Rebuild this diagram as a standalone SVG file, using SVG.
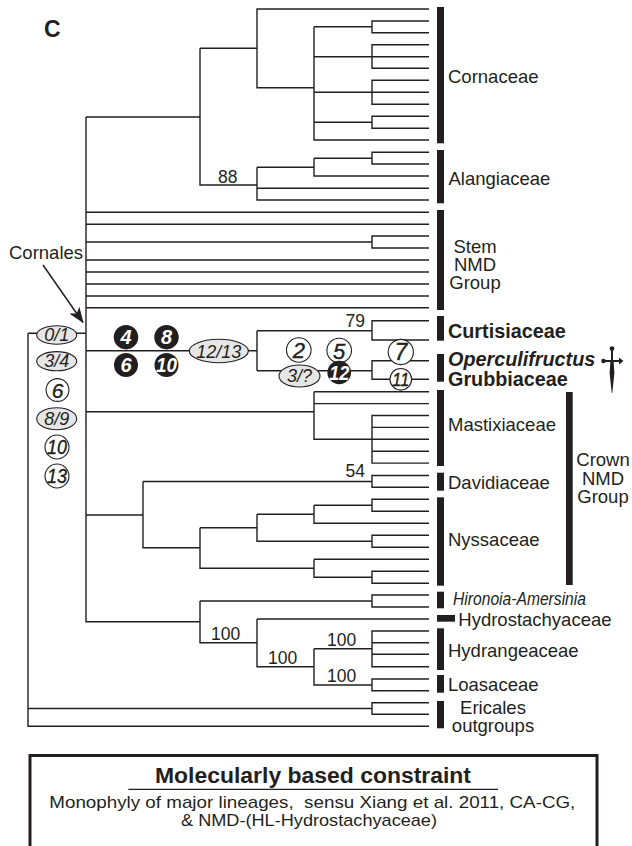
<svg xmlns="http://www.w3.org/2000/svg" width="632" height="846" viewBox="0 0 632 846">
<style>
text{font-family:"Liberation Sans",Arial,sans-serif;fill:#231f20}
.tree{fill:none;stroke:#231f20;stroke-width:1.4}
.bar{fill:#231f20}
.fam{font-size:18.5px}
.famb{font-size:19.8px;font-weight:bold}
.num{font-size:17.5px}
.ell{fill:#e6e6e6;stroke:#231f20;stroke-width:1.1}
.wc{fill:#fff;stroke:#231f20;stroke-width:1.1}
.bc{fill:#231f20}
.ci{font-size:18px;font-style:italic;text-anchor:middle}
.cw{font-size:22px;font-style:italic;text-anchor:middle;stroke:#231f20;stroke-width:0.4}
.bi{font-size:19px;font-style:italic;font-weight:bold;text-anchor:middle;fill:#fff}
</style>
<defs>
<marker id="ah" viewBox="0 0 16 12" refX="15" refY="6" markerWidth="16" markerHeight="12" markerUnits="userSpaceOnUse" orient="auto">
<path d="M0 0 L16 6 L0 12 L4 6 Z" fill="#231f20"/>
</marker>
</defs>
<rect width="632" height="846" fill="#fff"/>

<g id="connectors" class="tree">
<path d="M28 333.3 V726.3 H429 M28 333.3 H86 M28 708.5 H372 M429 702.7 H372 V714.3 H429"/>
<path d="M86 117 V621.7 H200 M86 117 H200"/>
<path d="M200 48.3 V185 H257 M200 48.3 H257 M429 9 H257 V87.7 H314 M314 26.7 V140 H429 M429 21 H372 V32.7 H429 M314 26.7 H372 M429 44.7 H372 V68.3 H429 M314 56.7 H429 M429 80.3 H372 V104.3 H429 M314 92.3 H429 M429 116.3 H372 V128.3 H429 M314 122.3 H372"/>
<path d="M257 167.3 V200 H429 M257 188.3 H429 M257 167.3 H314 M314 158.3 V176 H429 M429 152.3 H372 V164 H429 M314 158.3 H372"/>
<path d="M86 212.3 H429 M86 224.2 H429 M86 242 H372 M429 236 H372 V248 H429 M86 260 H429 M86 272 H429 M86 284 H429 M86 296 H429 M86 307.7 H429"/>
<path d="M86 350.7 H257 M257 330.7 V370.7 M257 330.7 H372 M429 320.7 H372 V340 H429 M257 370.7 H372 M429 360.7 H372 V379.3 H429"/>
<path d="M86 411.7 H314 M314 391.7 V439.3 H372 M314 391.7 H429 M314 403.6 H429 M429 415.5 H372 V463.1 H429 M372 427.4 H429 M372 439.3 H429 M372 451.2 H429"/>
<path d="M86 515 H143 M143 481.5 V547.7 H200 M143 481.5 H372 M429 475.5 H372 V487.3 H429"/>
<path d="M200 527.7 V568.3 H314 M200 527.7 H257 M257 514.3 V541.3 H372 M257 514.3 H314 M314 505.3 V523.3 H429 M314 505.3 H372 M429 499.3 H372 V511.3 H429 M429 535.3 H372 V547.3 H429 M314 559.3 V577.3 H372 M314 559.3 H429 M429 571.3 H372 V583.3 H429"/>
<path d="M200 601 V642.7 H257 M200 601 H372 M429 595 H372 V607 H429 M257 619 V666.7 H314 M257 619 H429 M314 648.8 V685 H372 M314 648.8 H372 M429 631 H372 V666.7 H429 M372 642.7 H429 M372 654.3 H429 M429 679 H372 V690.7 H429"/>
<path d="M43 265 L83 322.5" stroke-width="1.5" marker-end="url(#ah)"/>
</g>

<g id="panel-label"><text x="44" y="37.3" style="font-size:23px;font-weight:bold">C</text></g>
<g id="cornales-label"><text x="9" y="259" class="fam">Cornales</text></g>

<g id="support">
<text x="218" y="182.5" class="num">88</text>
<text x="345.5" y="326.7" class="num">79</text>
<text x="345.5" y="477.3" class="num">54</text>
<text x="211" y="640" class="num">100</text>
<text x="268" y="664" class="num">100</text>
<text x="327" y="646.3" class="num">100</text>
<text x="327" y="681.5" class="num">100</text>
</g>

<g id="cornaceae"><rect class="bar" x="437" y="7" width="7" height="136.3"/><text x="448" y="82.7" class="fam">Cornaceae</text></g>
<g id="alangiaceae"><rect class="bar" x="437" y="150" width="7" height="53.3"/><text x="448.5" y="185" class="fam">Alangiaceae</text></g>
<g id="stem-nmd"><rect class="bar" x="437" y="210" width="7" height="100"/>
<text x="475" y="253.3" class="fam" text-anchor="middle">Stem</text>
<text x="475" y="271" class="fam" text-anchor="middle">NMD</text>
<text x="475" y="289" class="fam" text-anchor="middle">Group</text></g>
<g id="curtisiaceae"><rect class="bar" x="437" y="316" width="7" height="24.7"/><text x="448" y="337.7" class="famb">Curtisiaceae</text></g>
<g id="operculifructus"><rect class="bar" x="437" y="354" width="7" height="27.7"/><text x="448" y="365.7" class="famb" font-style="italic">Operculifructus</text>
<text x="448" y="385.7" class="famb">Grubbiaceae</text>
<g id="dagger" fill="#231f20">
<circle cx="612" cy="348.6" r="2.4"/>
<rect x="611" y="350" width="2" height="12"/>
<path d="M604 360 H620 V362 H604 Z"/>
<circle cx="603.5" cy="361" r="2.3"/>
<path d="M619 357.5 L623.5 361 L619 364.5 Z"/>
<path d="M610.3 362 H613.7 L614.4 373 L612.3 393 L611.7 393 L609.6 373 Z"/>
</g></g>
<g id="mastixiaceae"><rect class="bar" x="437" y="390" width="7" height="76"/><text x="448" y="431" class="fam">Mastixiaceae</text></g>
<g id="davidiaceae"><rect class="bar" x="437" y="472.7" width="7" height="18"/><text x="448" y="489.3" class="fam">Davidiaceae</text></g>
<g id="nyssaceae"><rect class="bar" x="437" y="497.3" width="7" height="88.4"/><text x="448" y="546" class="fam">Nyssaceae</text></g>
<g id="crown-nmd"><rect class="bar" x="566" y="392" width="6.7" height="193"/>
<text x="603" y="466" class="fam" text-anchor="middle">Crown</text>
<text x="603" y="484.5" class="fam" text-anchor="middle">NMD</text>
<text x="603" y="503" class="fam" text-anchor="middle">Group</text></g>
<g id="hironoia"><rect class="bar" x="437" y="591.7" width="7" height="16.6"/><text x="453" y="605" class="fam" font-style="italic" textLength="133" lengthAdjust="spacingAndGlyphs">Hironoia-Amersinia</text></g>
<g id="hydrostachyaceae"><rect class="bar" x="437" y="615" width="18" height="6.7"/><text x="458.3" y="626" class="fam">Hydrostachyaceae</text></g>
<g id="hydrangeaceae"><rect class="bar" x="437" y="628.3" width="7" height="41.7"/><text x="448" y="657.3" class="fam">Hydrangeaceae</text></g>
<g id="loasaceae"><rect class="bar" x="437" y="675" width="7" height="17.7"/><text x="448" y="691" class="fam">Loasaceae</text></g>
<g id="ericales"><rect class="bar" x="437" y="701" width="7" height="27.3"/>
<text x="493" y="714.3" class="fam" text-anchor="middle">Ericales</text>
<text x="493" y="731.5" class="fam" text-anchor="middle">outgroups</text></g>

<g id="cornales-states">
<ellipse class="ell" cx="56.7" cy="335" rx="20" ry="9.2"/><text x="56.7" y="341.2" class="ci">0/1</text>
<ellipse class="ell" cx="56.7" cy="361.2" rx="20" ry="9.6"/><text x="56.7" y="367.4" class="ci">3/4</text>
<circle class="wc" cx="57.5" cy="390" r="11.4"/><text x="57.5" y="397.6" class="cw" style="font-size:21px">6</text>
<ellipse class="ell" cx="56.7" cy="418.7" rx="20" ry="11"/><text x="56.7" y="425" class="ci">8/9</text>
<circle class="wc" cx="57" cy="447" r="12"/><text x="57" y="454.3" class="cw" style="font-size:20px" textLength="20" lengthAdjust="spacingAndGlyphs">10</text>
<circle class="wc" cx="57" cy="476" r="12"/><text x="57" y="483.3" class="cw" style="font-size:20px" textLength="20" lengthAdjust="spacingAndGlyphs">13</text>
</g>

<g id="nmd-states">
<circle class="bc" cx="126" cy="337.2" r="12.2"/><text x="126" y="344.3" class="bi" style="font-size:20px">4</text>
<circle class="bc" cx="166.5" cy="337.2" r="12.2"/><text x="166.5" y="344.3" class="bi" style="font-size:20px">8</text>
<circle class="bc" cx="126" cy="365" r="12"/><text x="126" y="372.1" class="bi" style="font-size:20px">6</text>
<circle class="bc" cx="166.5" cy="365" r="12"/><text x="166.5" y="372.1" class="bi" style="font-size:20px" textLength="21" lengthAdjust="spacingAndGlyphs">10</text>
<ellipse class="ell" cx="218.8" cy="351" rx="29.5" ry="11.7"/><text x="218.8" y="357.5" class="ci">12/13</text>
</g>

<g id="curt-grub-states">
<circle class="wc" cx="298.8" cy="350" r="12.3"/><text x="298.8" y="358" class="cw">2</text>
<circle class="wc" cx="339.2" cy="350.5" r="12.3"/><text x="339.2" y="358.5" class="cw">5</text>
<ellipse class="ell" cx="299.5" cy="376" rx="20.5" ry="11"/><text x="299.5" y="382.3" class="ci">3/?</text>
<circle class="bc" cx="339.2" cy="372.5" r="11.8"/><text x="339.2" y="379.5" class="bi" style="font-size:20px" textLength="20" lengthAdjust="spacingAndGlyphs">12</text>
</g>

<g id="operc-grub-states">
<circle class="wc" cx="400.8" cy="352" r="12.6"/><text x="400.8" y="360.2" class="cw" style="font-size:23px">7</text>
<circle class="wc" cx="400.8" cy="379.3" r="10.8"/><text x="400.8" y="386" class="cw" style="font-size:19px" textLength="17" lengthAdjust="spacingAndGlyphs">11</text>
</g>

<g id="constraint-box">
<rect x="30" y="755.5" width="567" height="110" fill="none" stroke="#231f20" stroke-width="3"/>
<text x="313" y="783.3" text-anchor="middle" style="font-size:22px;font-weight:bold" textLength="316" lengthAdjust="spacingAndGlyphs">Molecularly based constraint</text>
<line x1="128.3" y1="789.3" x2="498" y2="789.3" stroke="#231f20" stroke-width="1.3"/>
<text x="312.3" y="808.3" text-anchor="middle" style="font-size:17px" textLength="526" lengthAdjust="spacingAndGlyphs">Monophyly of major lineages,&#160; sensu Xiang et al. 2011, CA-CG,</text>
<text x="309" y="825.5" text-anchor="middle" style="font-size:17px" textLength="256" lengthAdjust="spacingAndGlyphs">&amp; NMD-(HL-Hydrostachyaceae)</text>
</g>
</svg>
